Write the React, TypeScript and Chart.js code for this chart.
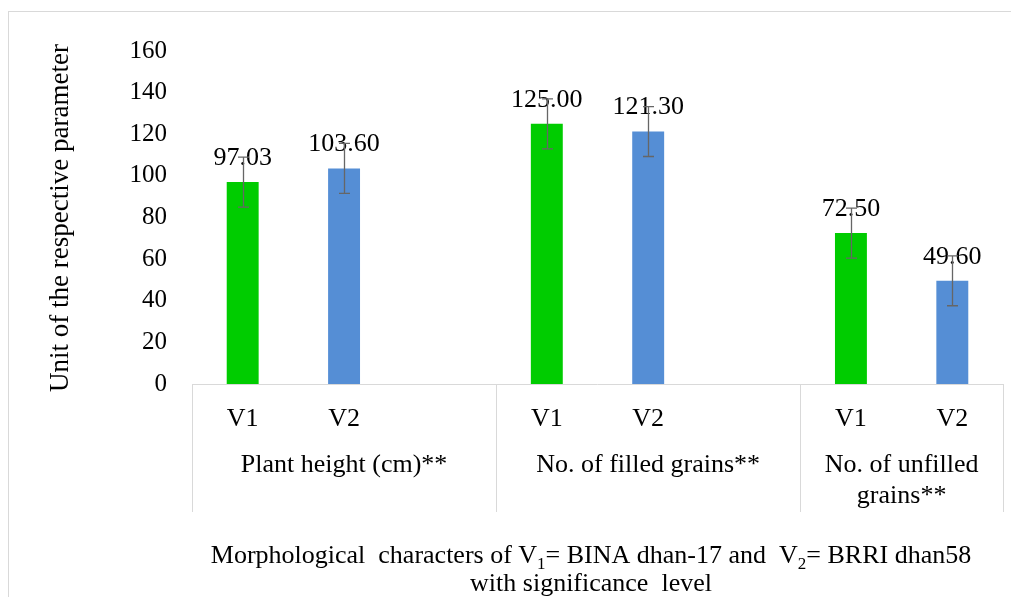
import React, { useEffect, useRef } from "react";
import { Chart, registerables } from "chart.js";

Chart.register(...registerables);

// ---- data ----
const groups = ["Plant height (cm)**", "No. of filled grains**", "No. of unfilled\ngrains**"];
const varieties = ["V1", "V2"];
const v1Values = [97.03, 125.0, 72.5];
const v2Values = [103.6, 121.3, 49.6];
const v1Errors = [12, 12, 12];
const v2Errors = [12, 12, 12];
const yTicks = [0, 20, 40, 60, 80, 100, 120, 140, 160];
const yTitle = "Unit of the respective parameter";
const xTitleLine1 = [
  { t: "Morphological  characters of V", sub: false },
  { t: "1", sub: true },
  { t: "= BINA dhan-17 and  V", sub: false },
  { t: "2", sub: true },
  { t: "= BRRI dhan58", sub: false },
];
const xTitleLine2 = "with significance  level";

const GREEN = "#00CC00";
const BLUE = "#558ED5";
const FONT = "'Liberation Serif', 'Times New Roman', serif";

// build slot structure: V1, V2, spacer (except after last group)
const labels: string[] = [];
const values: (number | null)[] = [];
const errors: (number | null)[] = [];
const colors: string[] = [];
const groupSlots: { start: number; end: number }[] = [];
groups.forEach((g, gi) => {
  const start = labels.length;
  const vals = [v1Values[gi], v2Values[gi]];
  const errs = [v1Errors[gi], v2Errors[gi]];
  varieties.forEach((v, vi) => {
    labels.push(v);
    values.push(vals[vi]);
    errors.push(errs[vi]);
    colors.push(vi === 0 ? GREEN : BLUE);
  });
  if (gi < groups.length - 1) {
    labels.push("");
    values.push(null);
    errors.push(null);
    colors.push("transparent");
  }
  groupSlots.push({ start, end: labels.length - 1 });
});

const decorPlugin = {
  id: "decor",
  beforeDraw(chart: any) {
    const ctx = chart.ctx;
    ctx.save();
    ctx.fillStyle = "#ffffff";
    ctx.fillRect(0, 0, chart.width, chart.height);
    ctx.strokeStyle = "#d9d9d9";
    ctx.lineWidth = 1;
    ctx.strokeRect(8.5, 11.5, chart.width + 20, chart.height + 20);
    ctx.restore();
  },
  afterDraw(chart: any) {
    const ctx = chart.ctx;
    const x = chart.scales.x;
    const y = chart.scales.y;
    const area = chart.chartArea;
    const half = (x.getPixelForValue(1) - x.getPixelForValue(0)) / 2;
    ctx.save();
    // axis line + group separators
    ctx.strokeStyle = "#d9d9d9";
    ctx.lineWidth = 1;
    ctx.beginPath();
    ctx.moveTo(area.left, Math.round(area.bottom) + 0.5);
    ctx.lineTo(area.right, Math.round(area.bottom) + 0.5);
    const bounds: number[] = [];
    groupSlots.forEach((gs, i) => {
      if (i === 0) bounds.push(x.getPixelForValue(gs.start) - half);
      bounds.push(x.getPixelForValue(gs.end) + half);
    });
    bounds.forEach((b) => {
      const bx = Math.round(b) + 0.5;
      ctx.moveTo(bx, area.bottom);
      ctx.lineTo(bx, area.bottom + 128);
    });
    ctx.stroke();

    // group labels
    ctx.fillStyle = "#000";
    ctx.font = `26px ${FONT}`;
    ctx.textAlign = "center";
    ctx.textBaseline = "middle";
    groupSlots.forEach((gs, i) => {
      const cx = (bounds[i] + bounds[i + 1]) / 2;
      const lines = groups[i].split("\n");
      lines.forEach((ln, li) => {
        ctx.fillText(ln, cx, area.bottom + 81 + li * 31);
      });
    });

    // y title
    ctx.save();
    ctx.translate(61, 218);
    ctx.rotate(-Math.PI / 2);
    ctx.font = `27px ${FONT}`;
    ctx.fillText(yTitle, 0, 0);
    ctx.restore();

    // x title line 1 with subscripts
    const mainFont = `26px ${FONT}`;
    const subFont = `17px ${FONT}`;
    let total = 0;
    xTitleLine1.forEach((s) => {
      ctx.font = s.sub ? subFont : mainFont;
      total += ctx.measureText(s.t).width;
    });
    let tx = 591 - total / 2;
    ctx.textAlign = "left";
    ctx.textBaseline = "alphabetic";
    xTitleLine1.forEach((s) => {
      ctx.font = s.sub ? subFont : mainFont;
      ctx.fillText(s.t, tx, s.sub ? 569 : 563);
      tx += ctx.measureText(s.t).width;
    });
    ctx.font = mainFont;
    ctx.textAlign = "center";
    ctx.fillText(xTitleLine2, 591, 591);

    // data labels
    const meta = chart.getDatasetMeta(0);
    ctx.textBaseline = "middle";
    ctx.font = `26px ${FONT}`;
    values.forEach((v, i) => {
      if (v === null) return;
      const bar = meta.data[i];
      ctx.fillText(v.toFixed(2), bar.x, bar.y - 24);
    });

    // error bars
    ctx.strokeStyle = "#666666";
    ctx.lineWidth = 1.3;
    values.forEach((v, i) => {
      if (v === null || errors[i] === null) return;
      const bar = meta.data[i];
      const top = y.getPixelForValue(v + (errors[i] as number));
      const bot = y.getPixelForValue(v - (errors[i] as number));
      const bx = Math.round(bar.x) + 0.5;
      ctx.beginPath();
      ctx.moveTo(bx, top);
      ctx.lineTo(bx, bot);
      ctx.moveTo(bx - 5.5, top);
      ctx.lineTo(bx + 5.5, top);
      ctx.moveTo(bx - 5.5, bot);
      ctx.lineTo(bx + 5.5, bot);
      ctx.stroke();
    });
    ctx.restore();
  },
};

export default function App() {
  const ref = useRef<HTMLCanvasElement | null>(null);
  useEffect(() => {
    if (!ref.current) return;
    const chart = new Chart(ref.current, {
      type: "bar",
      data: {
        labels,
        datasets: [
          {
            data: values as any,
            backgroundColor: colors,
            borderWidth: 0,
            barPercentage: 0.315,
            categoryPercentage: 1,
          },
        ],
      },
      options: {
        animation: false,
        responsive: false,
        devicePixelRatio: 1,
        layout: { padding: { left: 0, right: 8, top: 51, bottom: 0 } },
        plugins: { legend: { display: false }, tooltip: { enabled: false } },
        scales: {
          x: {
            grid: { display: false, drawTicks: false },
            border: { display: false },
            ticks: {
              font: { family: FONT, size: 26 },
              color: "#000",
              padding: 20,
              maxRotation: 0,
              autoSkip: false,
            },
            afterFit: (s: any) => {
              s.height = 213;
            },
          },
          y: {
            min: 0,
            max: 160,
            afterBuildTicks: (s: any) => {
              s.ticks = yTicks.map((v) => ({ value: v }));
            },
            grid: { display: false, drawTicks: false },
            border: { display: false },
            ticks: {
              font: { family: FONT, size: 25 },
              color: "#000",
              padding: 25,
            },
            afterFit: (s: any) => {
              s.width = 192;
            },
          },
        },
      },
      plugins: [decorPlugin],
    });
    return () => chart.destroy();
  }, []);
  return (
    <div style={{ position: "absolute", left: 0, top: 0, width: 1011, height: 597 }}>
      <canvas ref={ref} width={1011} height={597} style={{ width: 1011, height: 597, display: "block" }} />
    </div>
  );
}
